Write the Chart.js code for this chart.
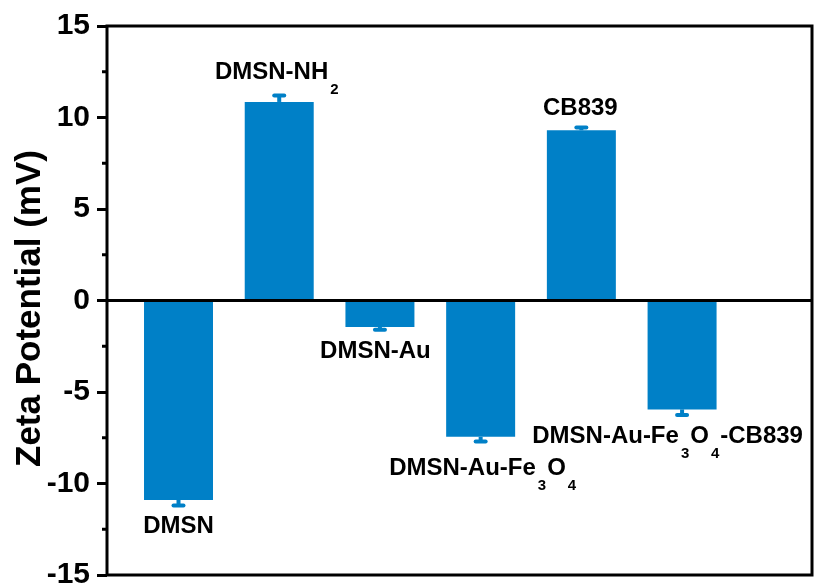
<!DOCTYPE html>
<html>
<head>
<meta charset="utf-8">
<script src="https://cdn.jsdelivr.net/npm/chart.js@4/dist/chart.umd.min.js"></script>
<style>
  html, body { margin: 0; padding: 0; background: #fff; }
  #wrap { width: 816px; height: 587px; }
</style>
</head>
<body>
<div id="wrap"><canvas id="zeta" width="816" height="587"></canvas></div>
<script>
// Sample names; "_{n}" marks a subscript
const categories = ['DMSN', 'DMSN-NH_{2}', 'DMSN-Au', 'DMSN-Au-Fe_{3}O_{4}', 'CB839', 'DMSN-Au-Fe_{3}O_{4}-CB839'];
// Zeta potential (mV) and its standard deviation
const zeta = [-10.9, 10.85, -1.45, -7.45, 9.3, -5.95];
const zetaErr = [0.3, 0.35, 0.15, 0.25, 0.15, 0.3];
// Axis settings
const yMin = -15, yMax = 15, yStep = 5, yMinorStep = 2.5;
const yTitle = 'Zeta Potential (mV)';

// Styling
const barColor = 'rgb(0,128,199)';
const FONT = '"Liberation Sans", Arial, Helvetica, sans-serif';
// label offset from the bar end: [dx from bar centre, dy to baseline]
const labelOffsets = [[0, 33], [-2, -23], [-4.5, 31], [2.5, 38], [-1, -15], [-14.5, 34]];

function parseRich(s) {
  const parts = [];
  const re = /_\{([^}]*)\}/g;
  let last = 0, m;
  while ((m = re.exec(s)) !== null) {
    if (m.index > last) parts.push({ t: s.slice(last, m.index), sub: false });
    parts.push({ t: m[1], sub: true });
    last = re.lastIndex;
  }
  if (last < s.length) parts.push({ t: s.slice(last), sub: false });
  return parts;
}

const mainFont = 'bold 24px ' + FONT;
const subFont = 'bold 15px ' + FONT;

function richWidth(ctx, parts) {
  let w = 0;
  parts.forEach(p => {
    ctx.font = p.sub ? subFont : mainFont;
    w += ctx.measureText(p.t).width + (p.sub ? 3 : 0);
  });
  return w;
}

function drawRich(ctx, parts, x, y) {
  parts.forEach(p => {
    ctx.font = p.sub ? subFont : mainFont;
    if (p.sub) {
      x += 2;
      ctx.fillText(p.t, x, y + 15);
      x += ctx.measureText(p.t).width + 1;
    } else {
      ctx.fillText(p.t, x, y);
      x += ctx.measureText(p.t).width;
    }
  });
}

const decor = {
  id: 'decor',
  afterDatasetsDraw(chart) {
    const { ctx, chartArea: a, scales: { y } } = chart;
    const meta = chart.getDatasetMeta(0);
    ctx.save();

    // error bars
    ctx.fillStyle = barColor;
    meta.data.forEach((bar, i) => {
      const v = zeta[i];
      const e = zetaErr[i] * Math.sign(v);
      const y0 = y.getPixelForValue(v);
      const y1 = y.getPixelForValue(v + e);
      ctx.fillRect(bar.x - 2, Math.min(y0, y1), 4, Math.abs(y1 - y0));
      ctx.beginPath();
      ctx.roundRect(bar.x - 7, y1 - 2, 14, 4, 2);
      ctx.fill();
    });

    // zero line
    ctx.strokeStyle = '#000';
    ctx.lineWidth = 3;
    const yz = y.getPixelForValue(0);
    ctx.beginPath();
    ctx.moveTo(a.left, yz);
    ctx.lineTo(a.right, yz);
    ctx.stroke();

    // minor ticks
    for (let v = yMin + yMinorStep; v < yMax; v += yStep) {
      const py = y.getPixelForValue(v);
      ctx.beginPath();
      ctx.moveTo(a.left - 5, py);
      ctx.lineTo(a.left, py);
      ctx.stroke();
    }

    // frame
    ctx.strokeRect(a.left, a.top, a.right - a.left, a.bottom - a.top);

    // sample labels
    ctx.fillStyle = '#000';
    ctx.textBaseline = 'alphabetic';
    ctx.textAlign = 'left';
    meta.data.forEach((bar, i) => {
      const parts = parseRich(categories[i]);
      const w = richWidth(ctx, parts);
      const [dx, dy] = labelOffsets[i];
      drawRich(ctx, parts, bar.x + dx - w / 2, bar.y + dy);
    });

    // axis title
    ctx.translate(30, (a.top + a.bottom) / 2 + 8);
    ctx.rotate(-Math.PI / 2);
    ctx.textAlign = 'center';
    ctx.textBaseline = 'middle';
    ctx.font = 'bold 35px ' + FONT;
    ctx.fillText(yTitle, 0, 0);
    ctx.restore();
  }
};

new Chart(document.getElementById('zeta'), {
  type: 'bar',
  data: {
    datasets: [{
      data: zeta.map((v, i) => ({ x: i + 1, y: v })),
      backgroundColor: barColor,
      borderWidth: 0,
      barPercentage: 0.685,
      categoryPercentage: 1
    }]
  },
  options: {
    responsive: false,
    animation: false,
    devicePixelRatio: 1,
    layout: { padding: { top: 26, right: 4, bottom: 12, left: 0 } },
    plugins: { legend: { display: false }, tooltip: { enabled: false } },
    scales: {
      x: {
        type: 'linear',
        min: 0.29,
        max: 7.29,
        offset: false,
        display: false,
        // keep only whole-number ticks so the bar spacing sets the bar width
        afterBuildTicks(scale) {
          scale.ticks = scale.ticks.filter(t => Number.isInteger(t.value));
        }
      },
      y: {
        min: yMin,
        max: yMax,
        afterFit(scale) {
          scale.width = 107;
          scale.paddingTop = 0;
          scale.paddingBottom = 0;
        },
        border: { display: false },
        grid: {
          drawOnChartArea: false,
          drawTicks: true,
          tickLength: 10,
          tickWidth: 3,
          tickColor: '#000'
        },
        ticks: {
          stepSize: yStep,
          padding: 7,
          color: '#000',
          font: { family: FONT, size: 30, weight: 'bold' }
        }
      }
    }
  },
  plugins: [decor]
});
</script>
</body>
</html>
